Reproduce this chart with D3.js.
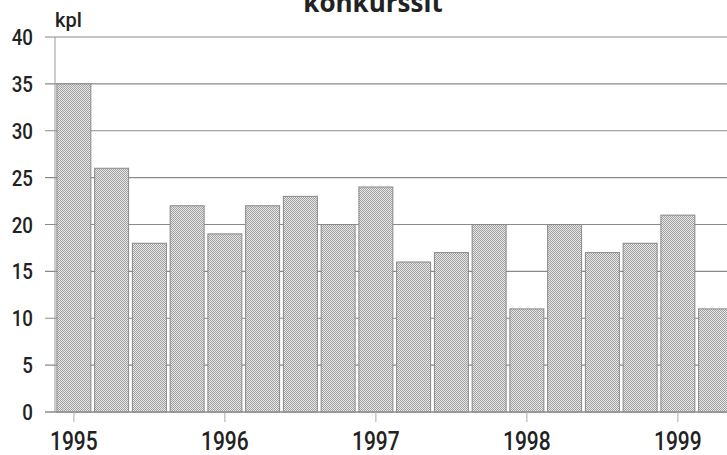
<!DOCTYPE html>
<meta charset="utf-8">
<style>
body { margin: 0; background: white; }
svg { display: block; overflow: hidden; }
.lbl { font-family: "Roboto", sans-serif; font-weight: 500; fill: #222; }
</style>
<svg width="727" height="455"></svg>
<script src="https://cdn.jsdelivr.net/npm/d3@7"></script>
<script>

var quarters = ["1995Q1","1995Q2","1995Q3","1995Q4",
                "1996Q1","1996Q2","1996Q3","1996Q4",
                "1997Q1","1997Q2","1997Q3","1997Q4",
                "1998Q1","1998Q2","1998Q3","1998Q4",
                "1999Q1","1999Q2"];
var values = [35, 26, 18, 22, 19, 22, 23, 20, 24, 16, 17, 20, 11, 20, 17, 18, 21, 11];
var yearTicks = ["1995Q1", "1996Q1", "1997Q1", "1998Q1", "1999Q1"];
var yTicks = [0, 5, 10, 15, 20, 25, 30, 35, 40];

var svg = d3.select("svg"),
    width = +svg.attr("width"),
    height = +svg.attr("height");

var plotLeft = 55, plotTop = 37, plotBottom = 412;

// checker pattern for the bars
var defs = svg.append("defs");
var pat = defs.append("pattern")
    .attr("id", "dots")
    .attr("width", 2).attr("height", 2)
    .attr("patternUnits", "userSpaceOnUse");
pat.append("rect").attr("width", 2).attr("height", 2).attr("fill", "#e6e6e6");
pat.append("rect").attr("width", 1).attr("height", 1).attr("fill", "#a2a2a2");
pat.append("rect").attr("x", 1).attr("y", 1).attr("width", 1).attr("height", 1).attr("fill", "#a2a2a2");

var x = d3.scaleBand()
    .domain(quarters)
    .range([plotLeft, plotLeft + 18 * 37.75])
    .paddingInner(0.1)
    .paddingOuter(0.05);

var y = d3.scaleLinear()
    .domain([0, 40])
    .range([plotBottom, plotTop]);

// grid lines
svg.append("g")
    .selectAll("line")
    .data(yTicks)
    .enter().append("line")
    .attr("x1", plotLeft - 10)
    .attr("x2", width)
    .attr("y1", function(d) { return y(d); })
    .attr("y2", function(d) { return y(d); })
    .attr("stroke", "#8a8a8a")
    .attr("stroke-width", 1.2);

// y axis line
svg.append("line")
    .attr("x1", plotLeft).attr("x2", plotLeft)
    .attr("y1", plotTop).attr("y2", plotBottom)
    .attr("stroke", "#999")
    .attr("stroke-width", 1);

// y labels (condensed look)
svg.append("g")
    .selectAll("text")
    .data(yTicks)
    .enter().append("text")
    .attr("class", "lbl")
    .attr("transform", function(d) { return "translate(33," + (y(d) + 8) + ") scale(0.85,1)"; })
    .attr("text-anchor", "end")
    .attr("font-size", "22px")
    .text(function(d) { return d; });

// bars
svg.append("g")
    .selectAll("rect")
    .data(values)
    .enter().append("rect")
    .attr("x", function(d, i) { return x(quarters[i]); })
    .attr("y", function(d) { return y(d); })
    .attr("width", x.bandwidth())
    .attr("height", function(d) { return plotBottom - y(d); })
    .attr("fill", "url(#dots)")
    .attr("stroke", "#888")
    .attr("stroke-width", 1);

// x axis
var xAxis = d3.axisBottom(x)
    .tickValues(yearTicks)
    .tickSizeInner(10)
    .tickSizeOuter(0)
    .tickPadding(10)
    .tickFormat(function(d) { return d.slice(0, 4); });

var gx = svg.append("g")
    .attr("transform", "translate(0," + plotBottom + ")")
    .call(xAxis);
gx.attr("font-family", null).attr("font-size", null);
gx.select(".domain")
    .attr("d", "M" + (plotLeft - 10) + ",0H" + width)
    .attr("stroke", "#8a8a8a")
    .attr("stroke-width", 1.2);
gx.selectAll(".tick line").attr("stroke", "#aaa");
gx.selectAll(".tick text")
    .attr("class", "lbl")
    .attr("font-size", "25px")
    .attr("fill", "#222")
    .attr("transform", "scale(0.84,1)");

// unit label
svg.append("text")
    .attr("class", "lbl")
    .attr("x", 55)
    .attr("y", 27)
    .attr("font-size", "20px")
    .text("kpl");

// title (cut off at top)
svg.append("text")
    .attr("x", 373)
    .attr("y", 12)
    .attr("text-anchor", "middle")
    .attr("font-family", "'Open Sans', sans-serif")
    .attr("font-weight", "bold")
    .attr("font-size", "26px")
    .attr("fill", "#222")
    .text("konkurssit");

</script>
